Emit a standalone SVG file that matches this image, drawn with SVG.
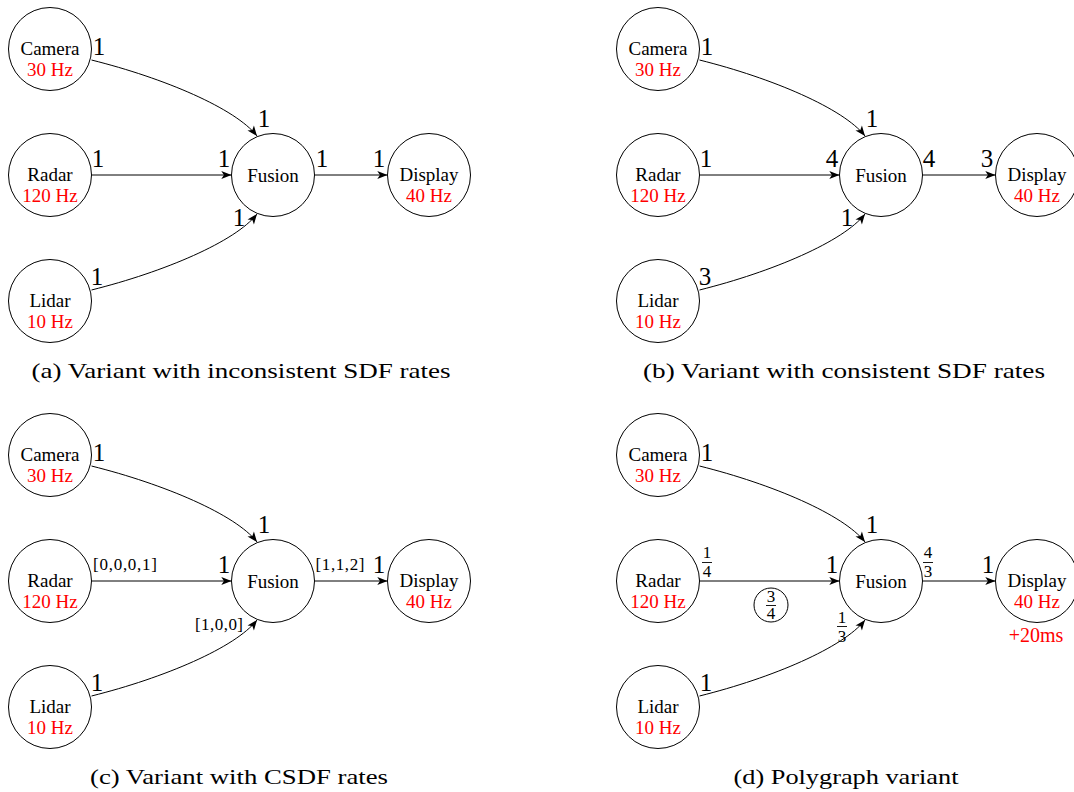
<svg xmlns="http://www.w3.org/2000/svg" width="1074" height="792" viewBox="0 0 1074 792">
<style>
text{font-family:"Liberation Serif","Times New Roman",serif;fill:#000;text-anchor:middle}
.node circle{fill:#fff;stroke:#000;stroke-width:1}
.name{font-size:19px}
.hz{font-size:19px;fill:#ff0000}
.red{font-size:20px;fill:#ff0000}
.edge{fill:none;stroke:#000;stroke-width:1;marker-end:url(#arr)}
.lbl{font-size:25px}
.vec{font-size:17px}
.fr{font-size:17px}
.frl{stroke:#000;stroke-width:0.9}
.tok{fill:none;stroke:#000;stroke-width:1}
.cap{font-size:22px}
</style>
<defs>
<marker id="arr" markerUnits="userSpaceOnUse" markerWidth="12" markerHeight="10" viewBox="-9 -4 10 8" refX="0" refY="0" orient="auto">
<path d="M0,0 L-8.5,-3.4 L-6.3,0 L-8.5,3.4 Z" fill="#000"/>
</marker>
</defs>

<!-- Panel (a) -->
<g id="panel-a">
<g id="a-connectors">
<path class="edge" d="M91.5,60 C164.3,78.2 235.4,108.4 257,136"/>
<path class="edge" d="M91.5,175 L231.5,175"/>
<path class="edge" d="M91.5,290 C164.3,271.8 235.4,241.6 257,214"/>
<path class="edge" d="M314.5,175 L387.5,175"/>
<g id="a-labels">
<text class="lbl" x="99" y="55">1</text>
<text class="lbl" x="264" y="127">1</text>
<text class="lbl" x="98" y="167">1</text>
<text class="lbl" x="224" y="167">1</text>
<text class="lbl" x="322" y="167">1</text>
<text class="lbl" x="379" y="167">1</text>
<text class="lbl" x="239" y="226">1</text>
<text class="lbl" x="97" y="285">1</text>
</g>
</g>
<g id="a-camera" class="node"><circle cx="50" cy="49" r="41.5"/><text class="name" x="50" y="55">Camera</text><text class="hz" x="50" y="75.5">30 Hz</text></g>
<g id="a-radar" class="node"><circle cx="50" cy="175" r="41.5"/><text class="name" x="50" y="181">Radar</text><text class="hz" x="50" y="201.5">120 Hz</text></g>
<g id="a-lidar" class="node"><circle cx="50" cy="301" r="41.5"/><text class="name" x="50" y="307">Lidar</text><text class="hz" x="50" y="327.5">10 Hz</text></g>
<g id="a-fusion" class="node"><circle cx="273" cy="175" r="41.5"/><text class="name" x="273" y="182">Fusion</text></g>
<g id="a-display" class="node"><circle cx="429" cy="175" r="41.5"/><text class="name" x="429" y="181">Display</text><text class="hz" x="429" y="201.5">40 Hz</text></g>
</g>

<!-- Panel (b) -->
<g id="panel-b" transform="translate(608,0)">
<g id="b-connectors">
<path class="edge" d="M91.5,60 C164.3,78.2 235.4,108.4 257,136"/>
<path class="edge" d="M91.5,175 L231.5,175"/>
<path class="edge" d="M91.5,290 C164.3,271.8 235.4,241.6 257,214"/>
<path class="edge" d="M314.5,175 L387.5,175"/>
<g id="b-labels">
<text class="lbl" x="99" y="55">1</text>
<text class="lbl" x="264" y="127">1</text>
<text class="lbl" x="98" y="167">1</text>
<text class="lbl" x="224" y="167">4</text>
<text class="lbl" x="321" y="167">4</text>
<text class="lbl" x="379" y="167">3</text>
<text class="lbl" x="239" y="226">1</text>
<text class="lbl" x="97" y="285">3</text>
</g>
</g>
<g id="b-camera" class="node"><circle cx="50" cy="49" r="41.5"/><text class="name" x="50" y="55">Camera</text><text class="hz" x="50" y="75.5">30 Hz</text></g>
<g id="b-radar" class="node"><circle cx="50" cy="175" r="41.5"/><text class="name" x="50" y="181">Radar</text><text class="hz" x="50" y="201.5">120 Hz</text></g>
<g id="b-lidar" class="node"><circle cx="50" cy="301" r="41.5"/><text class="name" x="50" y="307">Lidar</text><text class="hz" x="50" y="327.5">10 Hz</text></g>
<g id="b-fusion" class="node"><circle cx="273" cy="175" r="41.5"/><text class="name" x="273" y="182">Fusion</text></g>
<g id="b-display" class="node"><circle cx="429" cy="175" r="41.5"/><text class="name" x="429" y="181">Display</text><text class="hz" x="429" y="201.5">40 Hz</text></g>
</g>

<!-- Panel (c) -->
<g id="panel-c" transform="translate(0,406)">
<g id="c-connectors">
<path class="edge" d="M91.5,60 C164.3,78.2 235.4,108.4 257,136"/>
<path class="edge" d="M91.5,175 L231.5,175"/>
<path class="edge" d="M91.5,290 C164.3,271.8 235.4,241.6 257,214"/>
<path class="edge" d="M314.5,175 L387.5,175"/>
<g id="c-labels">
<text class="lbl" x="99" y="55">1</text>
<text class="lbl" x="264" y="127">1</text>
<text class="vec" x="125" y="164" textLength="64" lengthAdjust="spacing">[0,0,0,1]</text>
<text class="lbl" x="224" y="167">1</text>
<text class="vec" x="340" y="164" textLength="49" lengthAdjust="spacing">[1,1,2]</text>
<text class="lbl" x="379" y="167">1</text>
<text class="vec" x="219" y="224" textLength="48" lengthAdjust="spacing">[1,0,0]</text>
<text class="lbl" x="97" y="285">1</text>
</g>
</g>
<g id="c-camera" class="node"><circle cx="50" cy="49" r="41.5"/><text class="name" x="50" y="55">Camera</text><text class="hz" x="50" y="75.5">30 Hz</text></g>
<g id="c-radar" class="node"><circle cx="50" cy="175" r="41.5"/><text class="name" x="50" y="181">Radar</text><text class="hz" x="50" y="201.5">120 Hz</text></g>
<g id="c-lidar" class="node"><circle cx="50" cy="301" r="41.5"/><text class="name" x="50" y="307">Lidar</text><text class="hz" x="50" y="327.5">10 Hz</text></g>
<g id="c-fusion" class="node"><circle cx="273" cy="175" r="41.5"/><text class="name" x="273" y="182">Fusion</text></g>
<g id="c-display" class="node"><circle cx="429" cy="175" r="41.5"/><text class="name" x="429" y="181">Display</text><text class="hz" x="429" y="201.5">40 Hz</text></g>
</g>

<!-- Panel (d) -->
<g id="panel-d" transform="translate(608,406)">
<g id="d-connectors">
<path class="edge" d="M91.5,60 C164.3,78.2 235.4,108.4 257,136"/>
<path class="edge" d="M91.5,175 L231.5,175"/>
<path class="edge" d="M91.5,290 C164.3,271.8 235.4,241.6 257,214"/>
<path class="edge" d="M314.5,175 L387.5,175"/>
<g id="d-labels">
<text class="lbl" x="99" y="55">1</text>
<text class="lbl" x="264" y="127">1</text>
<g><text class="fr" x="99" y="152">1</text><line class="frl" x1="94" y1="156.5" x2="104" y2="156.5"/><text class="fr" x="99" y="171">4</text></g>
<text class="lbl" x="224" y="167">1</text>
<g><text class="fr" x="320" y="152">4</text><line class="frl" x1="315" y1="156.5" x2="325" y2="156.5"/><text class="fr" x="320" y="171">3</text></g>
<text class="lbl" x="380" y="167">1</text>
<g><text class="fr" x="234" y="217">1</text><line class="frl" x1="229" y1="220.5" x2="239" y2="220.5"/><text class="fr" x="234" y="235.5">3</text></g>
<text class="lbl" x="98" y="285">1</text>
</g>
<g id="d-token">
<circle class="tok" cx="163" cy="199" r="17"/>
<text class="fr" x="163" y="195.5">3</text><line class="frl" x1="158" y1="199.5" x2="168" y2="199.5"/><text class="fr" x="163" y="213">4</text>
</g>
</g>
<g id="d-camera" class="node"><circle cx="50" cy="49" r="41.5"/><text class="name" x="50" y="55">Camera</text><text class="hz" x="50" y="75.5">30 Hz</text></g>
<g id="d-radar" class="node"><circle cx="50" cy="175" r="41.5"/><text class="name" x="50" y="181">Radar</text><text class="hz" x="50" y="201.5">120 Hz</text></g>
<g id="d-lidar" class="node"><circle cx="50" cy="301" r="41.5"/><text class="name" x="50" y="307">Lidar</text><text class="hz" x="50" y="327.5">10 Hz</text></g>
<g id="d-fusion" class="node"><circle cx="273" cy="175" r="41.5"/><text class="name" x="273" y="182">Fusion</text></g>
<g id="d-display" class="node"><circle cx="429" cy="175" r="41.5"/><text class="name" x="429" y="181">Display</text><text class="hz" x="429" y="201.5">40 Hz</text><text class="red" x="428" y="236">+20ms</text></g>
</g>

<g id="captions">
<text class="cap" x="241" y="378" textLength="419" lengthAdjust="spacingAndGlyphs">(a) Variant with inconsistent SDF rates</text>
<text class="cap" x="844" y="378" textLength="402" lengthAdjust="spacingAndGlyphs">(b) Variant with consistent SDF rates</text>
<text class="cap" x="239" y="784" textLength="298" lengthAdjust="spacingAndGlyphs">(c) Variant with CSDF rates</text>
<text class="cap" x="846" y="784" textLength="225" lengthAdjust="spacingAndGlyphs">(d) Polygraph variant</text>
</g>
</svg>
